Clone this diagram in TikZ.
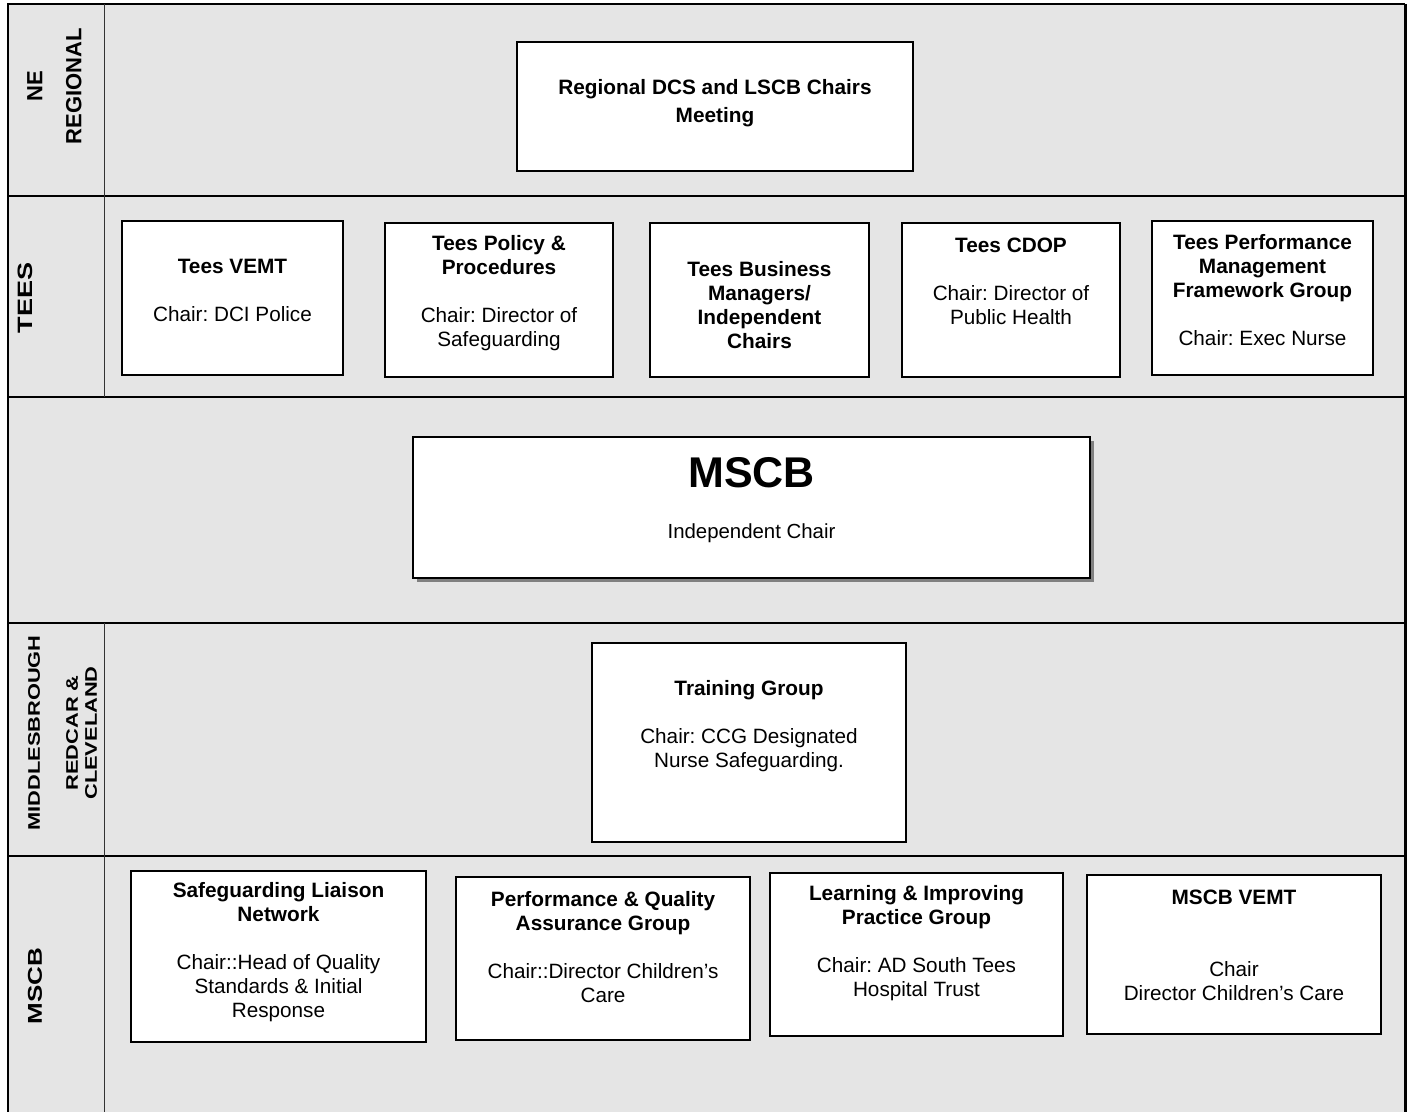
\documentclass[tikz,border=0pt]{standalone}
\usepackage{fontspec}
\setmainfont{Liberation Sans}
\newfontfamily\widefont[FakeStretch=1.3]{Liberation Sans}
\usetikzlibrary{shadows}
\definecolor{panelgrey}{HTML}{E5E5E5}
\newcommand{\hd}[1]{{\bfseries\fontsize{10.4}{12}\selectfont #1}}
\frenchspacing

\begin{document}
\begin{tikzpicture}[x=0.5pt,y=-0.5pt,
  grp/.style={draw, fill=white, line width=0.75pt, inner sep=0pt},
  txt/.style={align=center, inner sep=0pt, font=\fontsize{10.35}{12}\selectfont},
  side/.style={rotate=90, align=center, inner sep=0pt}]
\useasboundingbox (0,0) rectangle (1407,1112);
\fill[panelgrey] (8,4) rectangle (1405,1112);
% frame and rows
\draw[line width=1pt] (8,1112) -- (8,4) -- (1405,4);
\draw[line width=1.5pt] (1405,4) -- (1405,1112);
\draw[line width=1pt] (8,196) -- (1405,196);
\draw[line width=1pt] (8,397) -- (1405,397);
\draw[line width=1pt] (8,623) -- (1405,623);
\draw[line width=1pt] (8,856) -- (1405,856);
\draw[line width=0.5pt, black!80] (104,4) -- (104,397);
\draw[line width=0.5pt, black!80] (104,623) -- (104,1112);
% side labels
\node[side, font=\bfseries\fontsize{11}{12}\selectfont] (nereg) at (54.5,86) {NE\\[7.5pt]REGIONAL};
\node[side, font=\widefont\bfseries\fontsize{10.4}{12}\selectfont] (tees) at (25.5,298) {TEES};
\node[side, font=\widefont\bfseries\fontsize{8.4}{9.5}\selectfont] (mrc) at (62.5,733) {MIDDLESBROUGH\\[9.5pt]REDCAR \&\\CLEVELAND};
\node[side, font=\widefont\bfseries\fontsize{10}{12}\selectfont] (mscbside) at (35,986) {MSCB};
% boxes
\node[grp, minimum width=198pt, minimum height=64.5pt] (reg) at (715,106.5) {};
\node[grp, minimum width=110.5pt, minimum height=77pt] (tvemt) at (232.5,298) {};
\node[grp, minimum width=114pt, minimum height=77pt] (tpol) at (499,300) {};
\node[grp, minimum width=109.5pt, minimum height=77pt] (tbm) at (759.5,300) {};
\node[grp, minimum width=109pt, minimum height=77pt] (tcdop) at (1011,300) {};
\node[grp, minimum width=110.5pt, minimum height=77pt] (tpmf) at (1262.5,298) {};
\node[grp, minimum width=338.5pt, minimum height=70.5pt,
  drop shadow={shadow xshift=2pt, shadow yshift=-2pt, fill=black!50, opacity=1}] (mscb) at (751.5,507.5) {};
\node[grp, minimum width=157pt, minimum height=99.5pt] (trg) at (749,742.5) {};
\node[grp, minimum width=147.5pt, minimum height=85.5pt] (sln) at (278.5,956.5) {};
\node[grp, minimum width=147pt, minimum height=81.5pt] (pqa) at (603,958.5) {};
\node[grp, minimum width=146.5pt, minimum height=81.5pt] (lip) at (916.5,954.5) {};
\node[grp, minimum width=147pt, minimum height=79.5pt] (mvemt) at (1234,954.5) {};
% box texts
\node[txt] (reg-t) at (715,103) {\hd{Regional DCS and LSCB Chairs}\\[2pt]\hd{Meeting}};
\node[txt] (tvemt-t) at (232.5,290.5) {\hd{Tees VEMT}\\[12pt]Chair: DCI Police};
\node[txt] (tpol-t) at (499,293) {\hd{Tees Policy \&}\\\hd{Procedures}\\[12pt]Chair: Director of\\Safeguarding};
\node[txt] (tbm-t) at (759.5,305.5) {\hd{Tees Business}\\\hd{Managers/}\\\hd{Independent}\\\hd{Chairs}};
\node[txt] (tcdop-t) at (1011,281.5) {\hd{Tees CDOP}\\[12pt]Chair: Director of\\Public Health};
\node[txt] (tpmf-t) at (1262.5,290) {\hd{Tees Performance}\\\hd{Management}\\\hd{Framework Group}\\[12pt]Chair: Exec Nurse};
\node[anchor=base, inner sep=0pt, font=\bfseries\fontsize{21.5}{26}\selectfont] (mscb-t) at (751.5,487) {MSCB};
\node[anchor=base, inner sep=0pt, font=\fontsize{10.2}{12}\selectfont] (mscb-c) at (751.5,538) {Independent Chair};
\node[txt] (trg-t) at (749,726) {\hd{Training Group}\\[12pt]Chair: CCG Designated\\Nurse Safeguarding.};
\node[txt] (sln-t) at (278.5,952.5) {\hd{Safeguarding Liaison}\\\hd{Network}\\[12pt]Chair::Head of Quality\\Standards \& Initial\\Response};
\node[txt] (pqa-t) at (603,947.5) {\hd{Performance \& Quality}\\\hd{Assurance Group}\\[12pt]Chair::Director Children’s\\Care};
\node[txt] (lip-t) at (916.5,943) {\hd{Learning \& Improving}\\\hd{Practice Group}\\[12pt]Chair: AD South Tees\\Hospital Trust};
\node[txt] (mvemt-t) at (1234,945.5) {\hd{MSCB VEMT}\\[24pt]Chair\\Director Children’s Care};
\end{tikzpicture}
\end{document}
